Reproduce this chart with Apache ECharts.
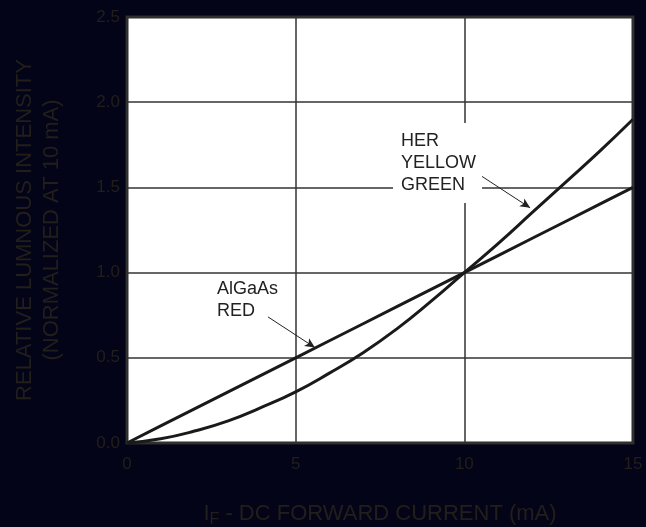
<!DOCTYPE html>
<html>
<head>
<meta charset="utf-8">
<script src="https://cdn.jsdelivr.net/npm/echarts@6/dist/echarts.min.js"></script>
<style>
  html, body { margin: 0; padding: 0; background: #040419; }
  #chart { width: 646px; height: 527px; }
</style>
</head>
<body>
<div id="chart"></div>
<script>
// 数据：正向电流 (mA) 与相对发光强度
const currents = [0, 1, 2, 3, 4, 5, 6, 7, 8, 9, 10, 11, 12, 13, 14, 15];
const algaasRed = [0, 0.1, 0.2, 0.3, 0.4, 0.5, 0.6, 0.7, 0.8, 0.9, 1.0, 1.1, 1.2, 1.3, 1.4, 1.5];
const herYellowGreen = [0, 0.025, 0.07, 0.13, 0.21, 0.30, 0.41, 0.53, 0.67, 0.83, 1.0, 1.17, 1.35, 1.53, 1.71, 1.9];
const xTicks = [0, 5, 10, 15];
const yTicks = [0, 0.5, 1.0, 1.5, 2.0, 2.5];

// 标注箭头（数据坐标）
const redArrow = [[4.18, 0.74], [5.57, 0.56]];
const herArrow = [[10.52, 1.565], [11.95, 1.38]];

const textColor = '#221f1b';
const font = '"Liberation Sans", Arial, sans-serif';

const chart = echarts.init(document.getElementById('chart'), null, { renderer: 'canvas' });

const arrowLine = (pts) => ({
    silent: true,
    symbol: ['none', 'arrow'],
    symbolSize: [7, 10],
    lineStyle: { color: '#222', width: 1, type: 'solid' },
    label: { show: false },
    emphasis: { disabled: true },
    data: [[{ coord: pts[0] }, { coord: pts[1] }]]
});

const option = {
    backgroundColor: '#040419',
    animation: false,
    grid: {
        left: 127, right: 13, top: 17, bottom: 84,
        outerBoundsMode: 'none',
        containLabel: false,
        show: true,
        backgroundColor: '#fff',
        borderColor: '#2b2b2b',
        borderWidth: 3
    },
    xAxis: {
        type: 'value',
        min: 0, max: 15, interval: 5,
        axisLine: { show: false },
        axisTick: { show: false },
        splitLine: { lineStyle: { color: '#333', width: 1.5 } },
        axisLabel: {
            color: textColor, fontSize: 17, fontFamily: font, margin: 13,
            formatter: (v) => xTicks.includes(v) ? String(v) : ''
        },
        name: '{a|I}{sub|F}{a| - DC FORWARD CURRENT (mA)}',
        nameLocation: 'middle',
        nameGap: 60,
        nameTextStyle: {
            rich: {
                a: { color: textColor, fontSize: 22, fontFamily: font, lineHeight: 22, verticalAlign: 'top' },
                sub: { color: textColor, fontSize: 16, fontFamily: font, lineHeight: 34 }
            }
        }
    },
    yAxis: {
        type: 'value',
        min: 0, max: 2.5, interval: 0.5,
        axisLine: { show: false },
        axisTick: { show: false },
        splitLine: { lineStyle: { color: '#333', width: 1.5 } },
        axisLabel: {
            color: textColor, fontSize: 17, fontFamily: font, margin: 7,
            formatter: (v) => yTicks.includes(v) ? v.toFixed(1) : ''
        },
        name: 'RELATIVE LUMNOUS INTENSITY\n(NORMALIZED AT 10 mA)',
        nameLocation: 'middle',
        nameRotate: 90,
        nameGap: 62,
        nameTextStyle: {
            color: textColor, fontSize: 22, fontFamily: font, lineHeight: 27, align: 'center'
        }
    },
    series: [
        {
            name: 'AlGaAs RED',
            type: 'line',
            data: currents.map((c, i) => [c, algaasRed[i]]),
            showSymbol: false,
            lineStyle: { color: '#1a1a1a', width: 3 },
            markLine: arrowLine(redArrow),
            z: 3
        },
        {
            name: 'HER YELLOW GREEN',
            type: 'line',
            smooth: true,
            data: currents.map((c, i) => [c, herYellowGreen[i]]),
            showSymbol: false,
            lineStyle: { color: '#1a1a1a', width: 3 },
            markLine: arrowLine(herArrow),
            z: 3
        }
    ]
};

chart.setOption(option);

// 标注文字
chart.setOption({
    graphic: [
        {
            type: 'text', left: 217, top: 278, z: 10,
            style: {
                text: 'AlGaAs\nRED', fill: '#222', font: '18px ' + font, lineHeight: 22
            }
        },
        {
            type: 'text', left: 393, top: 123, z: 10,
            style: {
                text: 'HER\nYELLOW\nGREEN', fill: '#222', font: '18px ' + font, lineHeight: 22,
                backgroundColor: '#fff', padding: [7, 6, 7, 8]
            }
        }
    ]
});
</script>
</body>
</html>
